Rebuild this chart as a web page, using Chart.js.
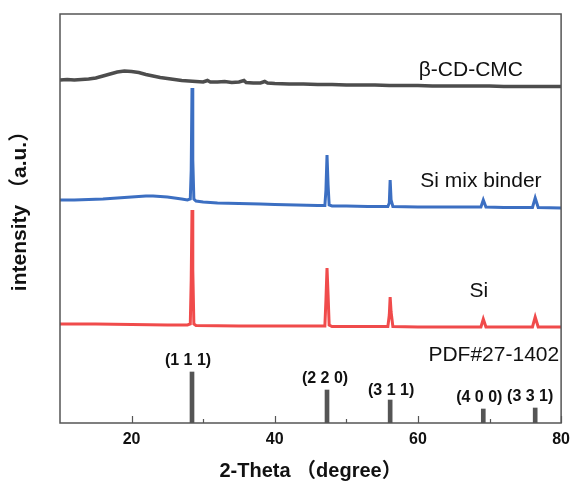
<!DOCTYPE html>
<html>
<head>
<meta charset="utf-8">
<script src="https://cdn.jsdelivr.net/npm/chart.js@4/dist/chart.umd.min.js"></script>
<style>
  html, body { margin: 0; padding: 0; background: #ffffff; }
  #wrap { width: 577px; height: 481px; }
</style>
</head>
<body>
<div id="wrap"><canvas id="c" width="577" height="481"></canvas></div>
<script>
// ---------- data ----------
const cmcTheta = [10, 11, 12, 13, 14, 15, 16, 17, 18, 19, 20, 21, 22, 23, 24, 25, 26, 27, 28, 29, 30, 30.6, 31, 32, 33, 34, 35, 35.7, 36, 37, 38, 38.6, 39, 40, 42, 44, 46, 48, 50, 52, 54, 56, 58, 60, 62, 64, 66, 68, 70, 72, 74, 76, 78, 80];
const cmcIntensity = [343, 343.5, 343, 343.5, 344, 345, 347, 349, 351, 352, 351.5, 350.5, 348.5, 347, 345.5, 344.5, 343.5, 342.5, 342, 341.5, 341, 342.5, 341, 341, 341.5, 340.5, 341, 342.5, 340.5, 340, 340, 341.5, 340, 339.5, 339, 339, 338.5, 338.5, 338, 338, 338, 337.5, 337.5, 337.5, 337, 337, 337, 337, 337, 336.5, 336.5, 336.5, 336.5, 336.5];

const mixTheta = [10, 12, 14, 16, 18, 20, 21, 22, 23, 24, 25, 26, 27, 27.8, 28.2, 28.33, 28.44, 28.55, 28.7, 29, 30, 32, 35, 38, 40, 43, 46, 47.0, 47.15, 47.3, 47.45, 47.6, 48, 50, 53, 55.8, 56.0, 56.12, 56.25, 56.5, 60, 64, 68.8, 69.13, 69.5, 72, 76.0, 76.38, 76.8, 80];
const mixIntensity = [223, 223, 223.5, 224, 225, 226, 226.5, 227, 227, 226.5, 226, 225, 224, 223, 224, 253, 335, 263, 224, 222, 221, 220, 219.5, 219, 218.5, 218, 217.5, 217.5, 233, 268, 238, 218, 217, 217, 216.5, 216.5, 220, 243, 223, 216.5, 216, 216, 216, 223, 216, 215.5, 215.5, 225, 215.5, 215];

const siTheta = [10, 15, 20, 25, 27.8, 28.2, 28.33, 28.44, 28.55, 28.7, 29, 35, 40, 45, 47.0, 47.15, 47.3, 47.45, 47.6, 48, 52, 55.8, 56.0, 56.12, 56.25, 56.5, 60, 65, 68.8, 69.13, 69.5, 73, 76.0, 76.38, 76.8, 80];
const siIntensity = [99, 99, 98.5, 98, 98, 99, 143, 213, 153, 99, 97.5, 97, 97, 97, 97, 123, 155, 128, 98, 96.5, 96.5, 96.5, 108, 126, 111, 96.5, 96, 96, 96, 104, 96, 96, 96, 106, 96, 96];

const pdfTheta = [28.44, 47.30, 56.12, 69.13, 76.38];
const pdfIntensity = [51, 33, 23, 14, 15];
const pdfLabels = ['(1 1 1)', '(2 2 0)', '(3 1 1)', '(4 0 0)', '(3 3 1)'];

const seriesNames = ['β-CD-CMC', 'Si mix binder', 'Si', 'PDF#27-1402'];
const xTicks = [20, 40, 60, 80];
const xMinorTicks = [30, 50, 70];
const xTitle = '2-Theta （degree）';
const yTitle = 'intensity （a.u.）';

// ---------- layout / style (kept apart from data) ----------
const FONT = "'Liberation Sans', Arial, 'Noto Sans CJK SC', sans-serif";
const TEXT = '#111111';
const FRAME = '#555555';
const seriesColors = ['#4d4d4d', '#3c6fc2', '#f04b4b', '#555555'];
// label anchor points in data coordinates
const nameAnchors = [[67.4, 353], [68.8, 242], [68.5, 132], [70.6, 68]];
const pdfLabelShift = [-4, -2, 1, -4, -5];   // px horizontal nudges
const pdfLabelRise = [11, 11, 9, 11, 11];     // px above stick top

const toXY = (xs, ys) => xs.map((x, i) => ({ x: x, y: ys[i] }));

const decor = {
  id: 'decor',
  afterDraw(chart) {
    const ctx = chart.ctx;
    const a = chart.chartArea;
    const xs = chart.scales.x, ys = chart.scales.y;
    ctx.save();
    // frame
    ctx.strokeStyle = FRAME;
    ctx.lineWidth = 1.5;
    ctx.strokeRect(a.left, a.top, a.right - a.left, a.bottom - a.top);
    // inward ticks
    ctx.lineWidth = 1.2;
    ctx.beginPath();
    xTicks.forEach(v => {
      const px = Math.round(xs.getPixelForValue(v)) + 0.5;
      ctx.moveTo(px, a.bottom); ctx.lineTo(px, a.bottom - 7);
    });
    xMinorTicks.forEach(v => {
      const px = Math.round(xs.getPixelForValue(v)) + 0.5;
      ctx.moveTo(px, a.bottom); ctx.lineTo(px, a.bottom - 4);
    });
    ctx.stroke();
    // series names
    ctx.fillStyle = TEXT;
    ctx.font = '21px ' + FONT;
    ctx.textAlign = 'center';
    ctx.textBaseline = 'middle';
    seriesNames.forEach((n, i) => {
      ctx.fillText(n, xs.getPixelForValue(nameAnchors[i][0]), ys.getPixelForValue(nameAnchors[i][1]));
    });
    // hkl labels
    ctx.font = 'bold 16px ' + FONT;
    pdfLabels.forEach((t, i) => {
      const px = xs.getPixelForValue(pdfTheta[i]) + pdfLabelShift[i];
      const py = ys.getPixelForValue(pdfIntensity[i]) - pdfLabelRise[i];
      ctx.fillText(t, px, py);
    });
    // y title
    ctx.font = 'bold 21px ' + FONT;
    ctx.translate(20, 206);
    ctx.rotate(-Math.PI / 2);
    ctx.fillText(yTitle, 0, 0);
    ctx.restore();
  }
};

new Chart(document.getElementById('c'), {
  type: 'line',
  data: {
    datasets: [
      { label: seriesNames[0], data: toXY(cmcTheta, cmcIntensity), borderColor: seriesColors[0], borderWidth: 3.5, pointRadius: 0, tension: 0 },
      { label: seriesNames[1], data: toXY(mixTheta, mixIntensity), borderColor: seriesColors[1], borderWidth: 3, pointRadius: 0, tension: 0 },
      { label: seriesNames[2], data: toXY(siTheta, siIntensity), borderColor: seriesColors[2], borderWidth: 3, pointRadius: 0, tension: 0 },
      { type: 'bar', label: seriesNames[3], data: toXY(pdfTheta, pdfIntensity), backgroundColor: seriesColors[3], barThickness: 4 }
    ]
  },
  options: {
    responsive: false,
    animation: false,
    devicePixelRatio: 1,
    layout: { padding: { top: 14, right: 11, bottom: 0, left: 0 } },
    plugins: { legend: { display: false }, tooltip: { enabled: false } },
    scales: {
      x: {
        type: 'linear', min: 10, max: 80, offset: false,
        afterBuildTicks: s => { s.ticks = xTicks.map(v => ({ value: v })); },
        afterFit: s => { s.height = 58; },
        ticks: { font: { family: FONT, size: 16, weight: 'bold' }, color: TEXT, padding: 7, maxRotation: 0, autoSkip: false },
        grid: { display: false, drawTicks: false, offset: false },
        border: { display: false },
        title: { display: true, text: xTitle, font: { family: FONT, size: 20, weight: 'bold' }, color: TEXT, padding: { top: 0, bottom: -2 } }
      },
      y: {
        min: 0, max: 409,
        afterFit: s => { s.width = 60; },
        ticks: { display: false },
        grid: { display: false, drawTicks: false },
        border: { display: false },
        title: { display: false }
      }
    }
  },
  plugins: [decor]
});
</script>
</body>
</html>
